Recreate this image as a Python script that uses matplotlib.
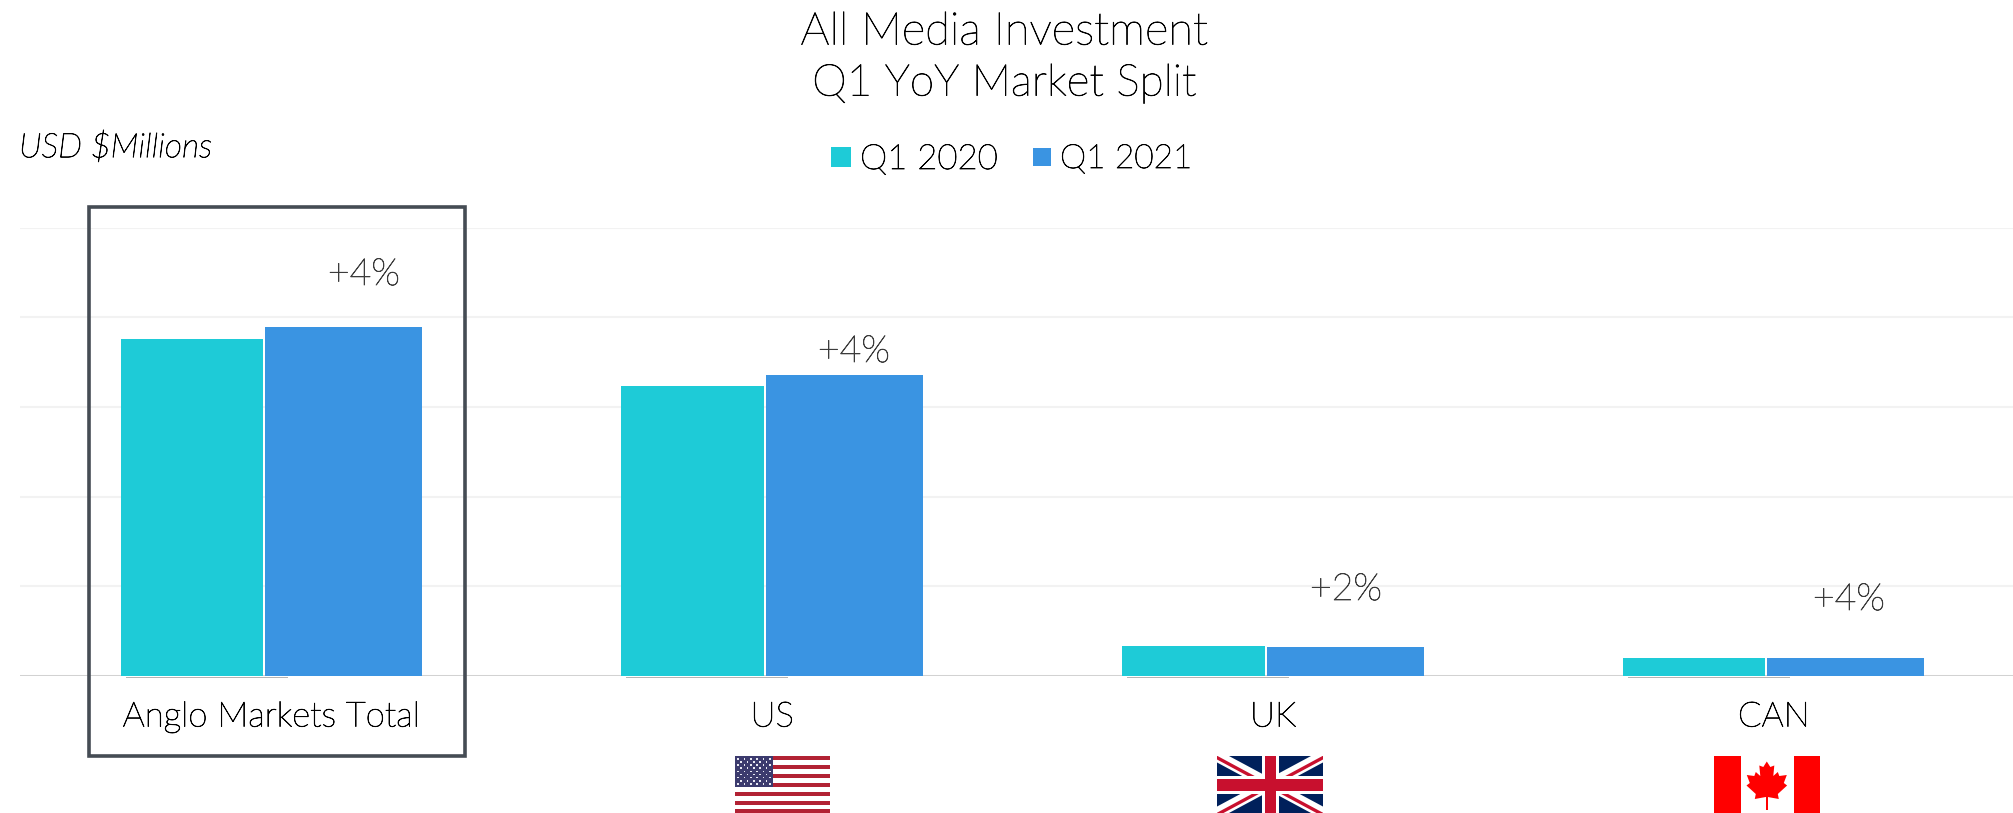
import matplotlib
matplotlib.use("Agg")
import matplotlib.pyplot as plt
from matplotlib.patches import Rectangle, Polygon
import matplotlib.patheffects as pe

W, H = 2013, 813
categories = ["Anglo Markets Total", "US", "UK", "CAN"]
q1_2020 = [752, 647, 65, 39]
q1_2021 = [779, 672, 63, 38]
changes = ["+4%", "+4%", "+2%", "+4%"]
series_names = ["Q1 2020", "Q1 2021"]
grid_values = [0, 200, 400, 600, 800, 1000]
TEAL = "#1ECBD7"
BLUE = "#3A94E2"
INK = "#3C3C3C"
BLACK = "#000000"

plt.rcParams["font.family"] = ["Lato", "DejaVu Sans"]
fig = plt.figure(figsize=(W / 100, H / 100), dpi=100)
THICK = [pe.withStroke(linewidth=0.55, foreground=BLACK)]
THICK_INK = [pe.withStroke(linewidth=0.55, foreground=INK)]

def fx(p): return p / W
def fy(p): return 1 - p / H

AX_L, AX_R, AX_T, AX_B = 20, 2013, 228, 675.5
ax = fig.add_axes([fx(AX_L), fy(AX_B), (AX_R - AX_L) / W, (AX_B - AX_T) / H])
UNIT = 500.8
C0 = 271.5
ax.set_xlim((AX_L - C0) / UNIT, (AX_R - C0) / UNIT)
ax.set_ylim(0, 1000)
for s in ax.spines.values():
    s.set_visible(False)
ax.set_yticks(grid_values)
ax.tick_params(axis="y", length=0, labelleft=False)
ax.grid(axis="y", color="#F2F2F2", lw=1.5)
ax.set_axisbelow(True)
ax.set_xticks(range(len(categories)))
ax.set_xticklabels(categories, fontsize=25, fontweight="light", color=BLACK, path_effects=THICK)
ax.tick_params(axis="x", length=0, pad=18)

xs = list(range(len(categories)))
w1, w2 = 142.5 / UNIT, 157 / UNIT
ax.bar([x - (8.5 / UNIT) - w1 / 2 for x in xs], q1_2020, width=w1, color=TEAL, zorder=3)
ax.bar([x - (6.5 / UNIT) + w2 / 2 for x in xs], q1_2021, width=w2, color=BLUE, zorder=3)
ax.axhline(0, color="#CFCFCF", lw=2, zorder=2)

label_px = [(364, 275), (854, 352), (1346, 590), (1849, 600)]
for (px, py), t in zip(label_px, changes):
    fig.text(fx(px), fy(py), t, ha="center", va="center", fontsize=27, color=INK, fontweight="light", path_effects=THICK_INK)

fig.text(fx(1004), fy(32), "All Media Investment", ha="center", va="center", fontsize=32.7, fontweight="light", color=BLACK, path_effects=THICK)
fig.text(fx(1004), fy(84), "Q1 YoY Market Split", ha="center", va="center", fontsize=31.7, fontweight="light", color=BLACK, path_effects=THICK)
fig.text(fx(19), fy(147), "USD $Millions", ha="left", va="center", fontsize=24.3, fontstyle="italic", fontweight="light", color=BLACK, path_effects=THICK)

for x0, x1, y0, y1, c, tx, fs, name in [(831, 851, 146.7, 166.7, TEAL, 860, 25, series_names[0]),
                                        (1033, 1051, 148, 166, BLUE, 1060, 24, series_names[1])]:
    fig.add_artist(Rectangle((fx(x0), fy(y1)), (x1 - x0) / W, (y1 - y0) / H, transform=fig.transFigure, color=c, lw=0))
    fig.text(fx(tx), fy(159), name, ha="left", va="center", fontsize=fs, fontweight="light", color=BLACK, path_effects=THICK)

fig.add_artist(Rectangle((fx(89), fy(755.5)), 376 / W, 548.5 / H, transform=fig.transFigure, fill=False, ec="#454C54", lw=2.6))

def frect(x0, y0, x1, y1, c, z=5):
    fig.add_artist(Rectangle((fx(x0), fy(y1)), (x1 - x0) / W, (y1 - y0) / H, transform=fig.transFigure, color=c, lw=0, zorder=z))

# faint shadow below the first bar of each group
for i in xs:
    cx0 = C0 + UNIT * i
    frect(cx0 - 146, 676.8, cx0 + 16, 678.2, "#B4B4B4", 1)

# US flag
UX0, UX1, UY0 = 735, 830, 756
for i in range(13):
    frect(UX0, UY0 + i * 4.45, UX1, UY0 + (i + 1) * 4.45, "#B22234" if i % 2 == 0 else "#FFFFFF")
frect(UX0, UY0, 773, UY0 + 31.2, "#3C3B6E", 6)
for r in range(9):
    n = 6 if r % 2 == 0 else 5
    off = 3 if r % 2 == 0 else 6.2
    for k in range(n):
        frect(UX0 + off + k * 6.35 - .8, UY0 + 2.8 + r * 3.15 - .8, UX0 + off + k * 6.35 + .8, UY0 + 2.8 + r * 3.15 + .8, "#E8E8F2", 7)

def poly(pts, c, z=6, clip=None):
    p = Polygon([(fx(a), fy(b)) for a, b in pts], transform=fig.transFigure, color=c, lw=0, zorder=z)
    fig.add_artist(p)
    if clip is not None:
        p.set_clip_path(clip)
    return p

# UK flag
KX0, KX1, KY0, KY1 = 1217, 1323, 756, 813
BL, RD = "#00205B", "#C8102E"
frect(KX0, KY0, KX1, KY1, BL)
KCLIP = Rectangle((fx(KX0), fy(KY1)), (KX1 - KX0) / W, (KY1 - KY0) / H, transform=fig.transFigure)
def diag(x0, y0, x1, y1, t, c, z):
    poly([(x0 - t, y0), (x0 + t, y0), (x1 + t, y1), (x1 - t, y1)], c, z, KCLIP)
diag(KX0, KY0, KX1, KY1, 12, "#FFFFFF", 6)
diag(KX1, KY0, KX0, KY1, 12, "#FFFFFF", 6)
diag(KX0 - 3, KY0, KX1 - 3, KY1, 3.5, RD, 7)
diag(KX1 + 3, KY0, KX0 + 3, KY1, 3.5, RD, 7)
frect(1262, KY0, 1279, KY1, "#FFFFFF", 8)
frect(KX0, 776, KX1, 794, "#FFFFFF", 8)
frect(1265, KY0, 1276, KY1, RD, 9)
frect(KX0, 779, KX1, 791, RD, 9)

# Canada flag
CX0, CX1, CY0, CY1 = 1714, 1820, 756, 813
frect(CX0, CY0, CX1, CY1, "#FF0000")
frect(CX0 + 26.5, CY0, CX1 - 26.5, CY1, "#FFFFFF", 6)
cx = 1766.8
half = [(0, 5.5), (3.5, 11), (7.5, 9.5), (6.5, 20), (11, 16), (12.5, 20), (20, 19), (17, 27),
        (20.3, 29.5), (11, 38), (12, 43), (1, 41)]
pts = [(cx + a, CY0 + b) for a, b in half] + [(cx - a, CY0 + b) for a, b in reversed(half)]
poly(pts, "#FF0000", 7)
frect(cx - .7, CY0 + 40, cx + .7, CY0 + 54, "#FF0000", 7)

fig.savefig("out.png", dpi=100)
